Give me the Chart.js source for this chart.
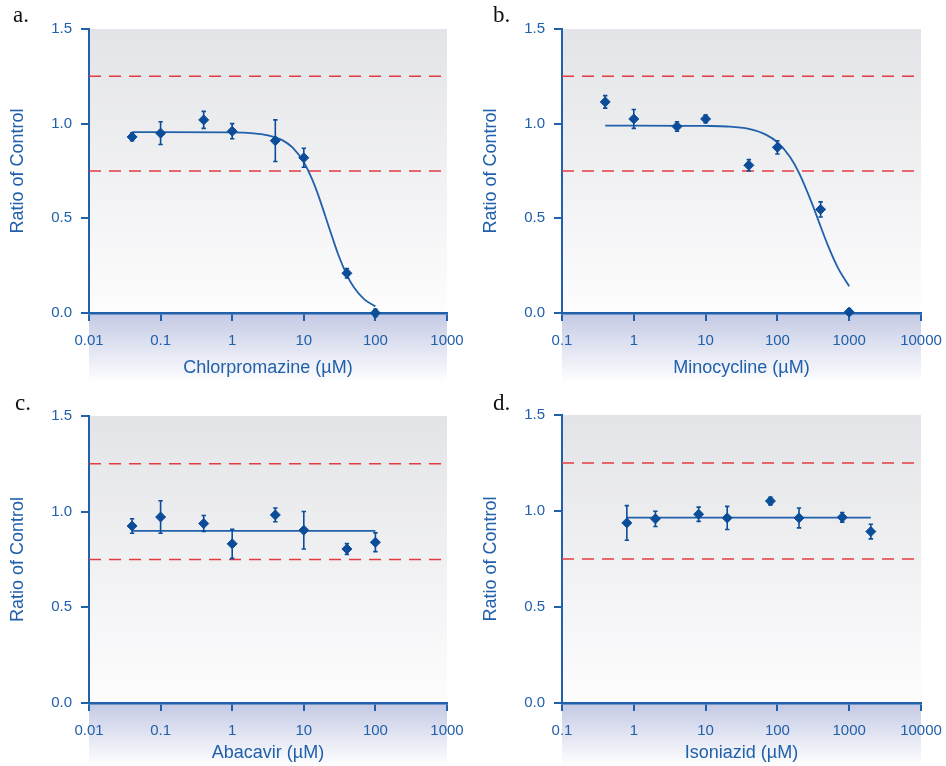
<!DOCTYPE html>
<html>
<head>
<meta charset="utf-8">
<script src="https://cdn.jsdelivr.net/npm/chart.js@4.4.1/dist/chart.umd.min.js"></script>
<style>
  body { margin: 0; background: #fff; width: 946px; height: 766px; position: relative; overflow: hidden; }
  canvas { position: absolute; }
  .tag { position: absolute; font-family: "Liberation Serif", serif; font-size: 23px; line-height: 1; color: #111; }
</style>
</head>
<body>
<canvas id="chartA" width="473" height="383" style="left:0;top:0"></canvas>
<canvas id="chartB" width="473" height="383" style="left:473px;top:0"></canvas>
<canvas id="chartC" width="473" height="379" style="left:0;top:387px"></canvas>
<canvas id="chartD" width="473" height="379" style="left:473px;top:387px"></canvas>
<div class="tag" style="left:13px;top:3px">a.</div>
<div class="tag" style="left:493px;top:3px">b.</div>
<div class="tag" style="left:15px;top:391px">c.</div>
<div class="tag" style="left:493px;top:391px">d.</div>
<script>
// shared
const yTicks = [0, 0.5, 1.0, 1.5];
const yTickLabels = ["0.0", "0.5", "1.0", "1.5"];
const limits = [0.75, 1.25];

// a. chlorpromazine
const chlorTicks = [0.01, 0.1, 1, 10, 100, 1000];
const chlorTickLabels = ["0.01", "0.1", "1", "10", "100", "1000"];
const chlorX = [0.04, 0.1, 0.4, 1, 4, 10, 40, 100];
const chlorY = [0.93, 0.95, 1.02, 0.96, 0.91, 0.82, 0.21, 0.0];
const chlorErr = [0.02, 0.06, 0.045, 0.04, 0.11, 0.05, 0.025, 0.02];
const chlorFitX = [0.04, 0.1, 1, 2, 3, 5, 7, 10, 13, 16, 20, 25, 30, 40, 50, 70, 100];
const chlorFitY = [0.955, 0.955, 0.954, 0.949, 0.94, 0.913, 0.873, 0.796, 0.708, 0.62, 0.511, 0.40, 0.313, 0.2, 0.136, 0.072, 0.035];

// b. minocycline
const minoTicks = [0.1, 1, 10, 100, 1000, 10000];
const minoTickLabels = ["0.1", "1", "10", "100", "1000", "10000"];
const minoX = [0.4, 1, 4, 10, 40, 100, 400, 1000];
const minoY = [1.115, 1.025, 0.985, 1.025, 0.78, 0.875, 0.547, 0.005];
const minoErr = [0.033, 0.05, 0.025, 0.02, 0.03, 0.035, 0.04, 0.015];
const minoFitX = [0.4, 1, 10, 20, 40, 70, 100, 150, 200, 300, 400, 500, 700, 1000];
const minoFitY = [0.99, 0.99, 0.988, 0.985, 0.972, 0.941, 0.902, 0.824, 0.74, 0.583, 0.457, 0.361, 0.237, 0.141];

// c. abacavir
const abacTicks = [0.01, 0.1, 1, 10, 100, 1000];
const abacTickLabels = ["0.01", "0.1", "1", "10", "100", "1000"];
const abacX = [0.04, 0.1, 0.4, 1, 4, 10, 40, 100];
const abacY = [0.925, 0.972, 0.938, 0.832, 0.983, 0.903, 0.805, 0.84];
const abacErr = [0.038, 0.085, 0.042, 0.076, 0.036, 0.098, 0.028, 0.049];
const abacFitX = [0.04, 100];
const abacFitY = [0.9, 0.9];

// d. isoniazid
const isoTicks = [0.1, 1, 10, 100, 1000, 10000];
const isoTickLabels = ["0.1", "1", "10", "100", "1000", "10000"];
const isoX = [0.8, 2, 8, 20, 80, 200, 800, 2000];
const isoY = [0.938, 0.959, 0.983, 0.964, 1.052, 0.964, 0.967, 0.893];
const isoErr = [0.09, 0.04, 0.037, 0.06, 0.02, 0.052, 0.025, 0.038];
const isoFitX = [0.8, 2000];
const isoFitY = [0.965, 0.965];

const BLUE = "#2160ab";
const DOT = "#0c4d9a";
const RED = "#e23c42";
const FONT = "'Liberation Sans', Arial, sans-serif";

const pairs = (xs, ys) => xs.map((x, i) => ({ x: x, y: ys[i] }));

// gray plot background + the bluish band under the x axis
const backdrop = {
  id: "backdrop",
  beforeDraw(chart) {
    const { ctx, chartArea: a, height } = chart;
    let g = ctx.createLinearGradient(0, a.top, 0, a.bottom);
    g.addColorStop(0, "#e3e4e7");
    g.addColorStop(1, "#fdfdfe");
    ctx.save();
    ctx.fillStyle = g;
    ctx.fillRect(a.left, a.top, a.right - a.left, a.bottom - a.top);
    g = ctx.createLinearGradient(0, a.bottom, 0, height);
    g.addColorStop(0, "#c3c9e4");
    g.addColorStop(1, "#ffffff");
    ctx.fillStyle = g;
    ctx.fillRect(a.left, a.bottom, a.right - a.left, height - a.bottom);
    ctx.restore();
  }
};

// vertical error bars with small caps
const errorBars = {
  id: "errorBars",
  beforeDatasetDraw(chart, args) {
    const ds = chart.data.datasets[args.index];
    if (!ds.errors) return;
    const { ctx, scales: { x, y } } = chart;
    ctx.save();
    ctx.strokeStyle = DOT;
    ctx.lineWidth = 1.6;
    ds.data.forEach((p, i) => {
      const e = ds.errors[i];
      const px = x.getPixelForValue(p.x);
      const y1 = y.getPixelForValue(p.y + e);
      const y2 = y.getPixelForValue(p.y - e);
      ctx.beginPath();
      ctx.moveTo(px, y1); ctx.lineTo(px, y2);
      ctx.moveTo(px - 2.2, y1); ctx.lineTo(px + 2.2, y1);
      ctx.moveTo(px - 2.2, y2); ctx.lineTo(px + 2.2, y2);
      ctx.stroke();
    });
    ctx.restore();
  }
};

function makePanel(id, p) {
  const xMin = p.ticks[0], xMax = p.ticks[p.ticks.length - 1];
  const limitSets = limits.map(v => ({
    data: [{ x: xMin, y: v }, { x: xMax * 0.9, y: v }],
    borderColor: RED, borderWidth: 1.5, borderDash: [12, 8],
    pointRadius: 0, clip: false
  }));
  new Chart(document.getElementById(id), {
    type: "line",
    data: {
      datasets: [
        {
          data: pairs(p.x, p.y), errors: p.err, showLine: false,
          pointStyle: "rectRot", pointRadius: 5, pointBackgroundColor: DOT,
          pointBorderColor: DOT, pointBorderWidth: 1, clip: false
        },
        {
          data: pairs(p.fitX, p.fitY), borderColor: BLUE, borderWidth: 1.8,
          pointRadius: 0, cubicInterpolationMode: "monotone", clip: false
        },
        ...limitSets
      ]
    },
    options: {
      responsive: false,
      animation: false,
      layout: { padding: { left: 0, top: p.top, right: p.right, bottom: 0 } },
      plugins: { legend: { display: false }, tooltip: { enabled: false } },
      scales: {
        x: {
          type: "logarithmic", min: xMin, max: xMax,
          afterBuildTicks: s => { s.ticks = p.ticks.map(v => ({ value: v })); },
          afterFit: s => { s.height = p.xh; s.paddingLeft = 0; s.paddingRight = 0; },
          ticks: {
            callback: (v, i) => p.labels[i], autoSkip: false, maxRotation: 0,
            color: BLUE, font: { family: FONT, size: 15 }, padding: 11
          },
          grid: { drawOnChartArea: false, tickLength: 8, color: BLUE, lineWidth: 2 },
          border: { color: BLUE, width: 2.5 },
          title: {
            display: true, text: p.title, color: BLUE,
            font: { family: FONT, size: 18 }, padding: { top: 0, bottom: p.tpad }
          }
        },
        y: {
          min: 0, max: 1.5,
          afterBuildTicks: s => { s.ticks = yTicks.map(v => ({ value: v })); },
          afterFit: s => { s.width = 89; },
          ticks: {
            callback: (v, i) => yTickLabels[i],
            color: BLUE, font: { family: FONT, size: 15 }, padding: 9
          },
          grid: { drawOnChartArea: false, tickLength: 8, color: BLUE, lineWidth: 2 },
          border: { color: BLUE, width: 2 },
          title: {
            display: true, text: "Ratio of Control", color: BLUE,
            font: { family: FONT, size: 18 }, padding: { top: 7, bottom: 0 }
          }
        }
      }
    },
    plugins: [backdrop, errorBars]
  });
}

makePanel("chartA", { ticks: chlorTicks, labels: chlorTickLabels, x: chlorX, y: chlorY, err: chlorErr,
  fitX: chlorFitX, fitY: chlorFitY, title: "Chlorpromazine (µM)", top: 29, right: 26, xh: 70, tpad: 4 });
makePanel("chartB", { ticks: minoTicks, labels: minoTickLabels, x: minoX, y: minoY, err: minoErr,
  fitX: minoFitX, fitY: minoFitY, title: "Minocycline (µM)", top: 29, right: 25, xh: 70, tpad: 4 });
makePanel("chartC", { ticks: abacTicks, labels: abacTickLabels, x: abacX, y: abacY, err: abacErr,
  fitX: abacFitX, fitY: abacFitY, title: "Abacavir (µM)", top: 29, right: 26, xh: 63, tpad: 2 });
makePanel("chartD", { ticks: isoTicks, labels: isoTickLabels, x: isoX, y: isoY, err: isoErr,
  fitX: isoFitX, fitY: isoFitY, title: "Isoniazid (µM)", top: 28, right: 25, xh: 63, tpad: 2 });
</script>
</body>
</html>
